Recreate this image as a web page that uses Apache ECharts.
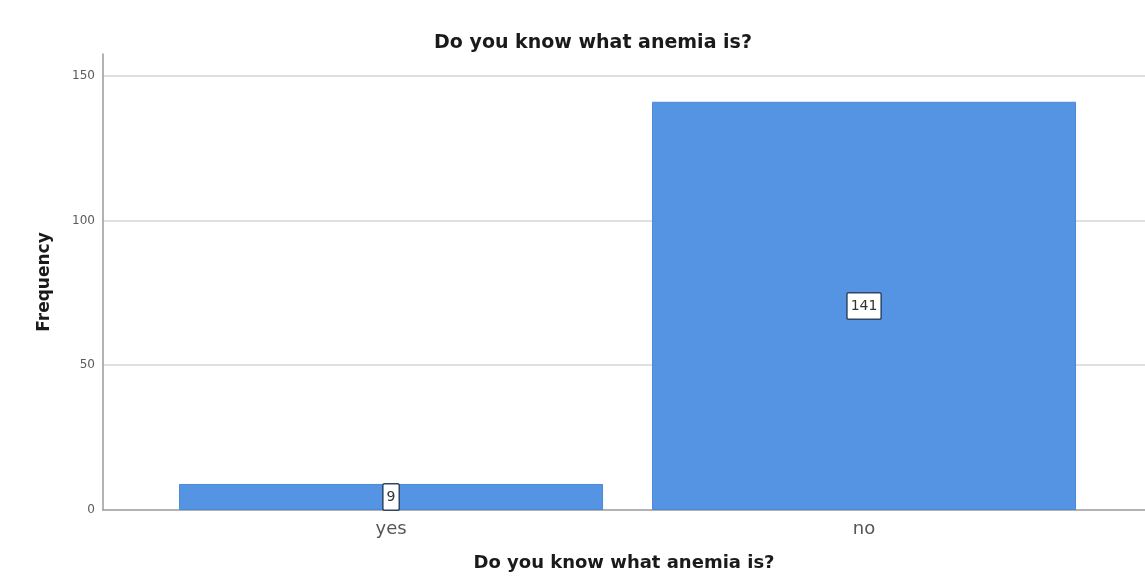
<!DOCTYPE html>
<html>
<head>
<meta charset="utf-8">
<script src="https://cdn.jsdelivr.net/npm/echarts@6/dist/echarts.min.js"></script>
<style>
  html, body { margin: 0; padding: 0; background: #ffffff; }
  #chart { width: 1145px; height: 577px; }
</style>
</head>
<body>
<div id="chart"></div>
<script>
// Answer categories and their counts
const categories = ['yes', 'no'];
const frequencies = [9, 141];
const gridValues = [50, 100, 150];
const titleText = 'Do you know what anemia is?';
const xAxisTitle = 'Do you know what anemia is?';
const yAxisTitle = 'Frequency';

// Bars sit at positions 1, 2, ... on a numeric x scale
const barData = frequencies.map((v, i) => [i + 1, v]);
const categoryPositions = categories.map((c, i) => i + 1);

const chart = echarts.init(document.getElementById('chart'), null, { renderer: 'canvas' });

const axisGray = '#9a9a9a';
const gridGray = '#d6d6d6';
const font = '"DejaVu Sans", "Open Sans", sans-serif';

chart.setOption({
  animation: false,
  backgroundColor: '#ffffff',
  title: {
    text: titleText,
    left: 588,
    textAlign: 'center',
    top: 29,
    textStyle: { fontSize: 19, fontWeight: 'bold', color: '#1a1a1a', fontFamily: font }
  },
  grid: { left: 103, right: 0, top: 54, bottom: 66, containLabel: false },
  xAxis: {
    type: 'value',
    min: 0.391,
    max: 2.594,
    name: xAxisTitle,
    nameLocation: 'middle',
    nameGap: 44,
    nameTextStyle: { fontSize: 18, fontWeight: 'bold', color: '#1a1a1a', fontFamily: font },
    axisLine: { show: true, lineStyle: { color: axisGray, width: 1.5 } },
    axisTick: { show: false },
    splitLine: { show: false },
    axisLabel: {
      customValues: categoryPositions,
      formatter: (v) => categories[Math.round(v) - 1] || '',
      fontSize: 18,
      color: '#555555',
      margin: 10,
      fontFamily: font
    }
  },
  yAxis: {
    type: 'value',
    min: 0,
    max: 157.5,
    interval: 50,
    name: yAxisTitle,
    nameLocation: 'middle',
    nameGap: 50,
    nameRotate: 90,
    nameTextStyle: { fontSize: 17, fontWeight: 'bold', color: '#1a1a1a', fontFamily: font },
    axisLine: { show: true, lineStyle: { color: axisGray, width: 1.5 } },
    axisTick: { show: false },
    splitLine: { show: false },
    axisLabel: {
      showMaxLabel: false,
      fontSize: 12,
      color: '#5a5a5a',
      margin: 8,
      fontFamily: font
    }
  },
  series: [{
    type: 'bar',
    data: barData,
    barWidth: 424,
    itemStyle: { color: '#5594e2', borderColor: '#4b88d4', borderWidth: 1 },
    label: {
      show: true,
      position: 'inside',
      formatter: (p) => String(p.value[1]),
      fontSize: 14,
      color: '#333333',
      backgroundColor: '#ffffff',
      borderColor: '#2e4766',
      borderWidth: 1.5,
      borderRadius: 1,
      padding: [6, 3, 5, 3],
      fontFamily: font
    },
    markLine: {
      silent: true,
      symbol: ['none', 'none'],
      label: { show: false },
      lineStyle: { color: gridGray, width: 1.5, type: 'solid' },
      z: -1,
      data: gridValues.map((v) => ({ yAxis: v }))
    }
  }]
});
</script>
</body>
</html>
